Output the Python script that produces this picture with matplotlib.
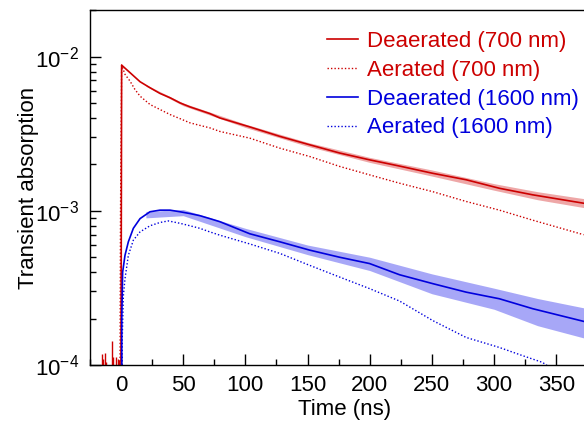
import matplotlib
matplotlib.use('Agg')
import matplotlib.pyplot as plt
import numpy as np
from matplotlib.ticker import LogLocator, MultipleLocator, NullFormatter

plt.rcParams['font.family'] = ['Liberation Sans', 'DejaVu Sans']
plt.rcParams['mathtext.fontset'] = 'custom'
plt.rcParams['mathtext.rm'] = 'Liberation Sans'
plt.rcParams['mathtext.it'] = 'Liberation Sans'

# values (time in ns, transient absorption)
t_red_deaer = [-0.3, 0.5, 7.2, 15.3, 23.3, 31.3, 39.4, 47.4, 55.4, 63.4, 71.4, 79.5,
               103.5, 127.6, 151.7, 175.8, 199.9, 224, 250.8, 277.5, 304.3, 331, 372]
a_red_deaer = [1e-5, 8.8e-3, 7.87e-3, 6.87e-3, 6.28e-3, 5.77e-3, 5.41e-3, 5.01e-3,
               4.72e-3, 4.49e-3, 4.27e-3, 4.0e-3, 3.5e-3, 3.04e-3, 2.68e-3, 2.37e-3,
               2.14e-3, 1.95e-3, 1.75e-3, 1.59e-3, 1.40e-3, 1.27e-3, 1.12e-3]

t_red_aer = [-1.2, -0.4, 0.5, 3.2, 7.2, 11.2, 15.3, 23.3, 31.3, 39.4, 47.4, 55.4, 63.4,
             71.4, 79.5, 103.5, 127.6, 151.7, 175.8, 199.9, 224, 250.8, 277.5, 304.3,
             331, 372]
a_red_aer = [1e-5, 1e-3, 8.8e-3, 7.67e-3, 6.94e-3, 6.12e-3, 5.54e-3, 4.89e-3, 4.54e-3,
             4.21e-3, 3.96e-3, 3.72e-3, 3.58e-3, 3.45e-3, 3.27e-3, 2.96e-3, 2.55e-3,
             2.25e-3, 1.94e-3, 1.71e-3, 1.51e-3, 1.33e-3, 1.15e-3, 1.01e-3, 8.7e-4,
             7.0e-4]

t_blue_deaer = [0.4, 0.6, 1.3, 3.2, 5.9, 9.9, 15.3, 23.3, 31.3, 39.4, 47.4, 55.4, 63.4,
                71.4, 79.5, 103.5, 127.6, 151.7, 175.8, 199.9, 224, 250.8, 277.5, 304.3,
                331, 372]
a_blue_deaer = [1e-5, 2.0e-4, 4.0e-4, 5.15e-4, 6.3e-4, 7.7e-4, 8.9e-4, 9.86e-4, 1.01e-3,
                1.01e-3, 9.86e-4, 9.6e-4, 9.3e-4, 8.9e-4, 8.5e-4, 7.1e-4, 6.3e-4, 5.56e-4,
                5.0e-4, 4.55e-4, 3.85e-4, 3.37e-4, 2.97e-4, 2.69e-4, 2.32e-4, 1.92e-4]

t_blue_aer = [0.6, 1.0, 1.9, 3.2, 5.9, 9.9, 15.3, 23.3, 31.3, 38, 47.4, 55.4, 63.4,
              71.4, 79.5, 103.5, 127.6, 151.7, 175.8, 199.9, 224, 250.8, 277.5, 304.3,
              323, 339, 346]
a_blue_aer = [1e-5, 1.5e-4, 2.83e-4, 3.63e-4, 5.15e-4, 6.45e-4, 7.3e-4, 8.0e-4, 8.4e-4,
              8.6e-4, 8.3e-4, 8.0e-4, 7.7e-4, 7.3e-4, 6.95e-4, 6.1e-4, 5.3e-4, 4.43e-4,
              3.72e-4, 3.13e-4, 2.6e-4, 1.94e-4, 1.51e-4, 1.30e-4, 1.15e-4, 1.04e-4,
              9.5e-5]

# spread of the noisy traces (upper / lower edge of the band)
t_band = [20, 50, 100, 150, 200, 250, 300, 335, 372]
blue_hi = [9.9e-4, 1.02e-3, 7.7e-4, 6.0e-4, 5.0e-4, 3.9e-4, 3.15e-4, 2.7e-4, 2.35e-4]
blue_lo = [9.0e-4, 9.3e-4, 6.8e-4, 5.2e-4, 4.1e-4, 2.9e-4, 2.3e-4, 1.8e-4, 1.5e-4]
red_hi = [6.58e-3, 5.0e-3, 3.65e-3, 2.78e-3, 2.22e-3, 1.84e-3, 1.5e-3, 1.33e-3, 1.2e-3]
red_lo = [6.42e-3, 4.8e-3, 3.47e-3, 2.62e-3, 2.06e-3, 1.68e-3, 1.36e-3, 1.18e-3, 1.05e-3]

# baseline noise spikes before t = 0
t_spikes = [-15, -14.3, -12.8, -12.2, -7, -6.3, -4.2, -2.4, -1.5]
a_spikes = [1.18e-4, 1.1e-4, 1.2e-4, 1.05e-4, 1.44e-4, 1.12e-4, 1.12e-4, 1.1e-4, 1.08e-4]

red = '#cc0000'
blue = '#0000dd'

fig = plt.figure(figsize=(5.84, 4.23), dpi=100)
# the original panel runs a little past the right edge of the image
ax = fig.add_axes([0.154, 0.137, 0.873, 0.839])

ax.fill_between(t_band, red_lo, red_hi, color='#e06060', alpha=0.55, lw=0)
ax.fill_between(t_band, blue_lo, blue_hi, color='#5050f0', alpha=0.5, lw=0)
ax.vlines(t_spikes, 1e-5, a_spikes, color=red, lw=1.0)
ax.plot(t_red_deaer, a_red_deaer, color=red, lw=1.2, label='Deaerated (700 nm)')
ax.plot(t_red_aer, a_red_aer, color=red, lw=1.0, ls=(0, (1, 1.5)),
        label='Aerated (700 nm)')
ax.plot(t_blue_deaer, a_blue_deaer, color=blue, lw=1.2, label='Deaerated (1600 nm)')
ax.plot(t_blue_aer, a_blue_aer, color=blue, lw=1.0, ls=(0, (1, 1.5)),
        label='Aerated (1600 nm)')

ax.set_yscale('log')
ax.set_ylim(1e-4, 2e-2)
ax.set_xlim(-25, 385)

ax.xaxis.set_major_locator(MultipleLocator(50))
ax.xaxis.set_minor_locator(MultipleLocator(25))
ax.yaxis.set_major_locator(LogLocator(base=10, numticks=10))
ax.yaxis.set_minor_locator(LogLocator(base=10, subs=np.arange(2, 10), numticks=20))
ax.yaxis.set_minor_formatter(NullFormatter())

ax.tick_params(which='both', direction='in', labelsize=16, width=1.0)
ax.tick_params(which='major', length=8)
ax.tick_params(which='minor', length=4.5)
ax.tick_params(axis='y', pad=8)
ax.tick_params(axis='x', pad=7)
ax.spines['right'].set_visible(False)
for s in ['left', 'bottom', 'top']:
    ax.spines[s].set_linewidth(1.0)

ax.set_xlabel('Time (ns)', fontsize=16, labelpad=2)
ax.set_ylabel('Transient absorption', fontsize=16, labelpad=-3)

leg = ax.legend(loc='upper right', bbox_to_anchor=(0.976, 0.966), frameon=False,
                fontsize=16, handlelength=1.4, handletextpad=0.4,
                labelspacing=0.35, borderaxespad=0)
for txt, line in zip(leg.get_texts(), leg.get_lines()):
    txt.set_color(line.get_color())

fig.savefig('out.png', dpi=100)
